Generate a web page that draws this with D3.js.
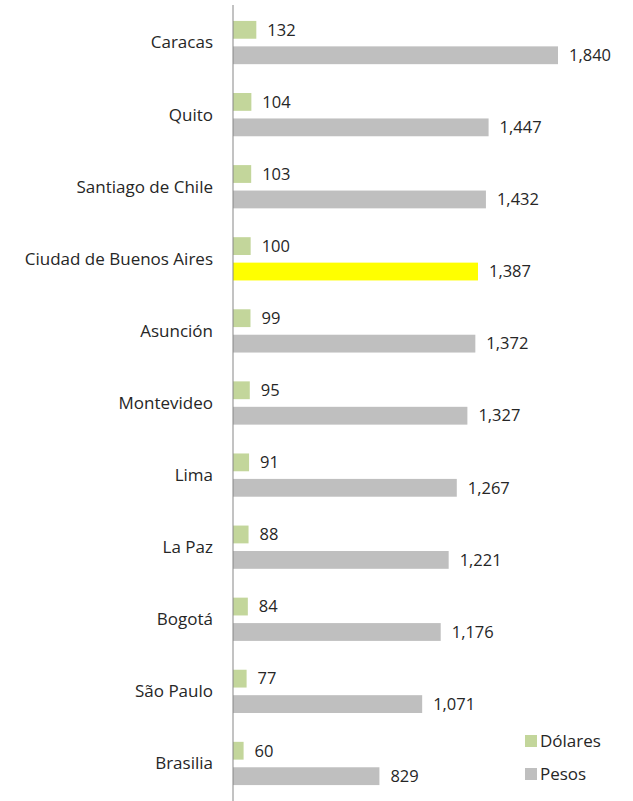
<!DOCTYPE html>
<html>
<head>
<meta charset="utf-8">
<script src="https://cdn.jsdelivr.net/npm/d3@7"></script>
<style>
  body { margin: 0; background: #fff; }
  text { font-family: "Open Sans", "Noto Sans", sans-serif; fill: #262626; }
</style>
</head>
<body>
<div id="chart"></div>
<script>
// ciudades y valores (dolares / pesos)
var ciudades = ["Caracas", "Quito", "Santiago de Chile", "Ciudad de Buenos Aires", "Asunción",
  "Montevideo", "Lima", "La Paz", "Bogotá", "São Paulo", "Brasilia"];
var dolares = [132, 104, 103, 100, 99, 95, 91, 88, 84, 77, 60];
var pesos = [1840, 1447, 1432, 1387, 1372, 1327, 1267, 1221, 1176, 1071, 829];
var series = ["Dólares", "Pesos"];
var resaltada = "Ciudad de Buenos Aires";

var width = 633, height = 801;
var x0 = 233;

var colorDol = "#c3d69b", colorPes = "#bfbfbf", colorResaltado = "#ffff00";

var svg = d3.select("#chart").append("svg")
  .attr("width", width)
  .attr("height", height);

var x = d3.scaleLinear().domain([0, 1840]).range([x0, 558]);

var y = d3.scaleBand()
  .domain(ciudades)
  .range([6.5, 799.5])
  .paddingInner(0.4)
  .paddingOuter(0.2);

var ySub = d3.scaleBand()
  .domain(series)
  .range([0, y.bandwidth()])
  .paddingInner(0.3);

var fmt = d3.format(",");

var data = ciudades.map(function(c, i) {
  return {ciudad: c, vals: [{s: "Dólares", v: dolares[i]}, {s: "Pesos", v: pesos[i]}]};
});

var g = svg.selectAll(".grupo")
  .data(data)
  .enter().append("g")
  .attr("class", "grupo")
  .attr("transform", function(d) { return "translate(0," + y(d.ciudad) + ")"; });

g.selectAll("rect")
  .data(function(d) { return d.vals.map(function(v) { return {ciudad: d.ciudad, s: v.s, v: v.v}; }); })
  .enter().append("rect")
  .attr("x", x(0))
  .attr("y", function(d) { return ySub(d.s); })
  .attr("width", function(d) { return x(d.v) - x(0); })
  .attr("height", ySub.bandwidth())
  .style("fill", function(d) {
    if (d.s == "Dólares") return colorDol;
    return d.ciudad == resaltada ? colorResaltado : colorPes;
  });

g.selectAll(".valor")
  .data(function(d) { return d.vals; })
  .enter().append("text")
  .attr("class", "valor")
  .attr("x", function(d) { return x(d.v) + 11; })
  .attr("y", function(d) { return ySub(d.s) + ySub.bandwidth() / 2; })
  .attr("dy", "0.35em")
  .attr("font-size", "16.5px")
  .text(function(d) { return fmt(d.v); });

// etiquetas de ciudades
svg.selectAll(".ciudad")
  .data(ciudades)
  .enter().append("text")
  .attr("class", "ciudad")
  .attr("x", 213)
  .attr("y", function(d) { return y(d) + y.bandwidth() / 2; })
  .attr("dy", "0.35em")
  .attr("text-anchor", "end")
  .attr("font-size", "17px")
  .text(function(d) { return d; });

// eje vertical
svg.append("line")
  .attr("x1", x0).attr("x2", x0)
  .attr("y1", 5).attr("y2", 801)
  .style("stroke", "#868686")
  .style("stroke-width", 1);

// leyenda
var leg = svg.selectAll(".leg")
  .data(series)
  .enter().append("g")
  .attr("class", "leg")
  .attr("transform", function(d, i) { return "translate(525," + (735 + i * 33) + ")"; });

leg.append("rect")
  .attr("width", 12).attr("height", 12)
  .style("fill", function(d, i) { return i == 0 ? colorDol : colorPes; });

leg.append("text")
  .attr("x", 15)
  .attr("y", 6)
  .attr("dy", "0.35em")
  .attr("font-size", "17px")
  .text(function(d) { return d; });
</script>
</body>
</html>
